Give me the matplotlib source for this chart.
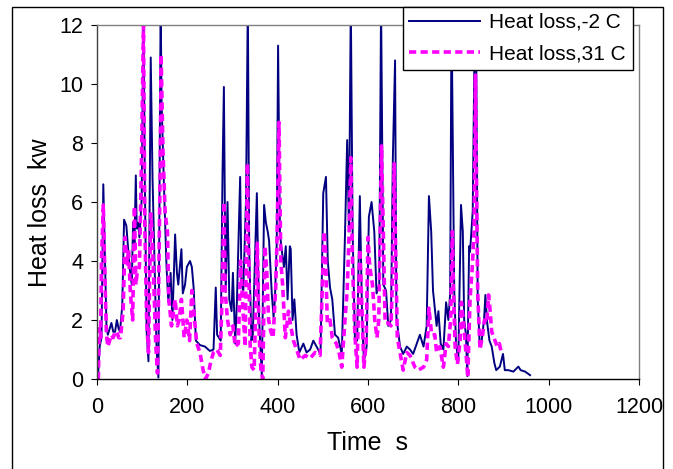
import matplotlib
matplotlib.use('Agg')
import matplotlib.pyplot as plt
from matplotlib.patches import Rectangle

plt.rcParams['font.family'] = ['Liberation Sans', 'DejaVu Sans']

# Heat loss, -2 C  (time s, kW)
t_cold = [2, 6, 10, 14, 18, 21, 24, 28, 32, 36, 40, 44, 48, 51, 56, 60, 65, 68, 72, 77,
          80, 83, 86, 88, 91, 94, 99, 103, 106, 110, 114, 119, 123, 128, 132, 136, 141, 143, 148, 154,
          158, 163, 167, 173, 177, 180, 187, 190, 195, 199, 206, 210, 214, 219, 228, 239, 250, 258, 263, 266,
          274, 278, 281, 283, 285, 289, 293, 298, 301, 306, 310, 317, 320, 324, 330, 334, 337, 342, 345, 354,
          359, 365, 370, 374, 378, 381, 387, 391, 394, 398, 401, 405, 408, 414, 418, 422, 427, 429, 433, 437,
          442, 448, 457, 464, 472, 479, 486, 495, 501, 507, 511, 516, 521, 527, 534, 542, 549, 554, 558, 562,
          566, 571, 576, 582, 587, 591, 597, 602, 608, 614, 619, 625, 629, 634, 640, 645, 651, 655, 660, 663,
          671, 678, 686, 693, 700, 708, 715, 723, 730, 735, 740, 744, 748, 752, 756, 761, 767, 773, 778, 782,
          785, 791, 795, 800, 806, 810, 813, 817, 820, 824, 826, 832, 837, 839, 843, 847, 851, 857, 860, 864,
          869, 874, 880, 884, 892, 899, 903, 911, 922, 933, 938, 948, 959]
q_cold = [0.0, 1.1, 1.4, 6.6, 3.8, 1.8, 1.5, 1.7, 1.9, 1.6, 1.6, 2.0, 1.7, 1.6, 2.5, 5.4, 5.2, 4.6, 3.8, 3.2,
          5.3, 4.6, 6.9, 5.1, 5.3, 4.8, 6.1, 12.8, 6.6, 1.6, 0.6, 10.9, 6.8, 3.5, 1.0, 0.05, 12.8, 9.4, 6.7, 3.8,
          2.6, 3.6, 2.0, 4.9, 3.6, 3.2, 4.4, 2.9, 3.2, 3.8, 4.0, 3.8, 3.1, 1.3, 1.15, 1.1, 0.95, 1.0, 3.1, 1.5,
          1.3, 7.0, 9.9, 6.1, 2.95, 6.0, 2.7, 2.3, 3.6, 1.2, 2.7, 6.85, 3.2, 3.0, 6.1, 12.8, 4.4, 1.3, 1.5, 6.3,
          2.0, 0.1, 5.9, 5.3, 5.0, 4.7, 2.9, 2.1, 2.7, 4.6, 11.3, 5.0, 4.5, 3.8, 4.5, 2.7, 4.5, 4.4, 2.0, 2.7,
          1.5, 0.9, 1.2, 0.9, 1.0, 1.3, 1.1, 0.85, 6.3, 6.85, 4.0, 3.1, 2.7, 1.5, 1.4, 0.85, 4.8, 8.1, 5.0, 12.8,
          5.0, 1.4, 1.3, 6.2, 2.1, 0.6, 1.1, 5.5, 6.0, 5.0, 2.9, 3.2, 12.8, 3.2, 3.0, 1.8, 2.0, 7.4, 10.8, 2.1,
          1.1, 0.85, 1.1, 1.0, 0.85, 1.2, 1.5, 1.1, 1.8, 6.2, 5.0, 3.0, 2.4, 1.8, 2.3, 1.2, 1.0, 2.6, 2.0, 2.9,
          12.5, 3.0, 1.2, 0.6, 5.9, 5.0, 2.0, 1.5, 0.1, 4.5, 4.3, 5.7, 12.8, 12.8, 2.7, 1.3, 1.2, 2.0, 2.85, 1.9,
          1.3, 1.1, 0.53, 0.3, 0.42, 0.85, 0.3, 0.3, 0.25, 0.42, 0.3, 0.25, 0.13]

# Heat loss, 31 C
t_warm = [3, 5, 8, 10, 14, 18, 21, 24, 28, 32, 36, 40, 44, 48, 52, 58, 62, 67, 70, 74,
          79, 83, 86, 89, 94, 98, 103, 106, 110, 114, 119, 122, 126, 130, 134, 140, 142, 146, 151, 156,
          159, 165, 173, 178, 182, 187, 193, 199, 205, 210, 216, 221, 228, 235, 240, 247, 252, 258, 265, 273,
          278, 281, 284, 289, 295, 301, 306, 313, 318, 323, 328, 333, 335, 339, 343, 348, 355, 359, 363, 367,
          372, 376, 380, 385, 390, 396, 399, 403, 407, 411, 417, 424, 429, 435, 442, 450, 461, 472, 483, 494,
          503, 506, 510, 516, 521, 530, 536, 542, 549, 554, 558, 562, 566, 571, 576, 582, 586, 591, 596, 600,
          604, 610, 615, 620, 624, 630, 634, 638, 645, 651, 655, 658, 662, 665, 671, 678, 686, 693, 704, 711,
          723, 730, 735, 741, 748, 752, 759, 767, 773, 778, 783, 787, 789, 793, 798, 804, 807, 811, 817, 821,
          826, 831, 835, 838, 843, 848, 853, 858, 863, 867, 870, 874, 879, 886, 891, 895]
q_warm = [0.0, 1.7, 1.4, 4.0, 5.9, 3.2, 1.5, 1.1, 1.3, 1.5, 1.4, 1.6, 1.6, 1.4, 1.4, 2.3, 4.8, 3.9, 4.4, 2.9,
          2.0, 5.85, 3.2, 3.6, 3.8, 6.9, 12.0, 5.2, 2.0, 0.9, 5.6, 5.0, 3.2, 1.2, 0.2, 7.2, 11.0, 7.8, 5.6, 5.0,
          2.7, 1.8, 2.7, 1.8, 2.0, 2.7, 1.4, 2.0, 1.3, 3.0, 2.0, 1.2, 0.9, 0.3, 0.0, 0.2, 0.6, 0.9, 1.0, 0.8,
          3.3, 6.0, 2.95, 2.0, 1.5, 1.8, 1.1, 1.2, 4.0, 2.4, 1.1, 7.3, 5.0, 1.2, 0.4, 0.3, 4.6, 1.5, 0.3, 0.0,
          4.5, 3.6, 2.0, 1.6, 1.4, 3.2, 5.0, 8.7, 4.0, 3.2, 1.4, 2.3, 1.8, 1.3, 1.0, 0.65, 0.8, 0.7, 0.9, 0.8,
          5.0, 4.3, 1.9, 2.0, 1.4, 1.2, 0.9, 0.4, 2.0, 3.0, 4.8, 7.5, 3.8, 1.5, 0.4, 4.4, 2.7, 0.4, 1.2, 4.8,
          3.8, 3.2, 2.0, 1.4, 2.0, 7.9, 5.0, 1.9, 1.9, 1.8, 3.8, 7.3, 3.8, 1.4, 0.9, 0.3, 0.9, 0.8, 0.4, 0.3,
          0.4, 0.65, 2.4, 1.5, 1.5, 0.9, 1.1, 0.4, 1.2, 1.1, 2.0, 5.0, 3.2, 1.1, 0.5, 1.3, 2.6, 2.0, 0.9, 0.05,
          2.7, 3.8, 5.0, 10.3, 2.9, 1.0, 1.4, 2.0, 1.9, 2.85, 2.4, 1.6, 1.4, 1.1, 1.2, 0.9]

fig = plt.figure(figsize=(6.73, 4.69), dpi=100)
ax = fig.add_axes([0.1441, 0.1919, 0.8053, 0.7548])

ax.plot(t_cold, q_cold, color='#000080', lw=1.4, label='Heat loss,-2 C')
ax.plot(t_warm, q_warm, color='#FF00FF', lw=2.6, dashes=(2.0, 1.2), label='Heat loss,31 C')

ax.set_xlim(0, 1200)
ax.set_ylim(0, 12)
ax.set_xticks(range(0, 1201, 200))
ax.set_yticks(range(0, 13, 2))
ax.tick_params(direction='out', length=4, labelsize=15.5, colors='black')
ax.tick_params(axis='x', pad=9)
ax.tick_params(axis='y', pad=6)
ax.spines['top'].set_color('#808080')
ax.spines['right'].set_color('#808080')
ax.spines['left'].set_color('#404040')
for s in ax.spines.values():
    s.set_linewidth(1.0)

ax.set_xlabel('Time  s', fontsize=18, va='center')
ax.xaxis.set_label_coords(0.5, -0.181)
ax.set_ylabel('Heat loss  kw', fontsize=18, va='center')
ax.yaxis.set_label_coords(-0.105, 0.47)

leg = fig.legend(loc='upper left', bbox_to_anchor=(0.599, 0.985, 0.342, 0.001),
                 mode='expand', borderaxespad=0, fontsize=15, handlelength=3.4,
                 handletextpad=0.4, labelspacing=0.6, borderpad=0.3, fancybox=False,
                 framealpha=1, edgecolor='black')
leg.get_frame().set_linewidth(1.0)

fig.patches.append(Rectangle((0.0178, -0.02), 0.967, 1.005, transform=fig.transFigure,
                             fill=False, edgecolor='black', lw=1.0))

fig.savefig('out.png', dpi=100)
